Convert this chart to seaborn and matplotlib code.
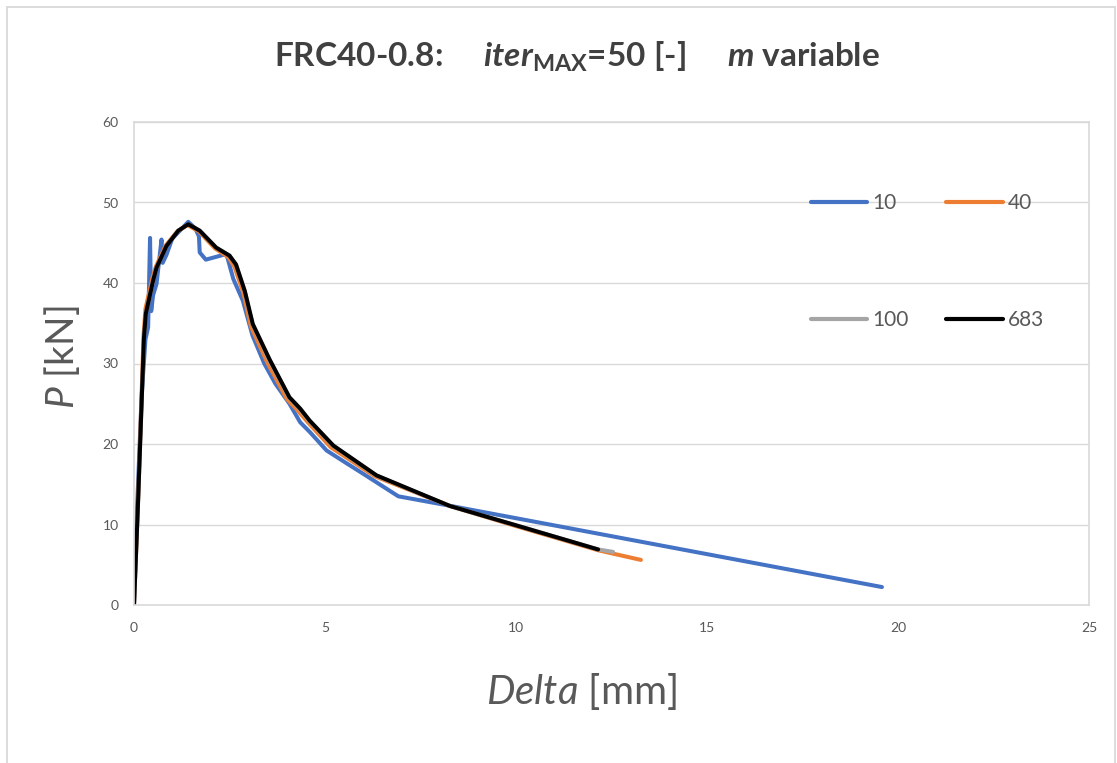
import pandas as pd
import seaborn as sns
from matplotlib import pyplot as plt
from matplotlib.lines import Line2D
from matplotlib.patches import Rectangle

# m = 10
x_m10 = [0, 0.08, 0.2, 0.3, 0.37, 0.42, 0.45, 0.5, 0.59, 0.72, 0.75, 0.85, 1.0, 1.2,
         1.42, 1.6, 1.70, 1.72, 1.88, 2.42, 2.6, 2.85, 3.1, 3.41, 3.7, 4.07, 4.35,
         4.6, 5.04, 5.5, 6.0, 6.92, 8.3, 19.58]
y_m10 = [0, 12, 26, 33, 34.5, 45.6, 36.5, 38.5, 39.9, 45.4, 42.5, 43.5, 45.5, 46.5,
         47.6, 46.8, 45.8, 43.8, 42.9, 43.6, 40.5, 37.8, 33.5, 30.0, 27.5, 25.0, 22.7,
         21.5, 19.2, 17.8, 16.3, 13.5, 12.3, 2.23]

# m = 40
x_m40 = [0, 0.1, 0.25, 0.3, 0.48, 0.57, 0.82, 1.13, 1.4, 1.7, 2.12, 2.47, 2.63, 2.86,
         3.06, 3.48, 4.0, 4.28, 4.55, 5.15, 6.3, 8.27, 10.0, 12.15, 13.27]
y_m40 = [0, 12, 33.5, 36.8, 40.6, 42.0, 44.6, 46.4, 47.2, 46.4, 44.3, 43.2, 42.0, 38.8,
         34.6, 30.2, 25.6, 24.2, 22.7, 19.6, 16.0, 12.3, 9.8, 6.8, 5.6]

# m = 100
x_m100 = [0, 0.1, 0.26, 0.31, 0.5, 0.59, 0.85, 1.16, 1.42, 1.72, 2.15, 2.5, 2.67, 2.9,
          3.1, 3.53, 4.05, 4.33, 4.58, 5.2, 6.33, 8.27, 10.0, 12.15, 12.54]
y_m100 = [0, 12, 33.1, 36.2, 40.3, 41.9, 44.6, 46.5, 47.3, 46.5, 44.4, 43.4, 42.3, 39.0,
          34.9, 30.5, 25.8, 24.4, 22.9, 19.8, 16.1, 12.3, 9.9, 6.9, 6.6]

# m = 683
x_m683 = [0, 0.1, 0.26, 0.31, 0.5, 0.59, 0.85, 1.16, 1.42, 1.72, 2.15, 2.5, 2.67, 2.9,
          3.11, 3.55, 4.07, 4.35, 4.6, 5.22, 6.35, 8.27, 10.0, 12.15]
y_m683 = [0, 12, 33.1, 36.2, 40.3, 41.9, 44.6, 46.5, 47.3, 46.5, 44.4, 43.4, 42.3, 39.0,
          34.9, 30.5, 25.8, 24.4, 22.9, 19.8, 16.1, 12.3, 9.9, 6.9]

series = ["10", "40", "100", "683"]
colors = ["#4472C4", "#ED7D31", "#A5A5A5", "#000000"]

sns.set_style("white")
plt.rcParams["font.family"] = ["Lato", "DejaVu Sans"]
plt.rcParams["mathtext.fontset"] = "custom"
plt.rcParams["mathtext.rm"] = "Lato"
plt.rcParams["mathtext.it"] = "Lato:italic"
plt.rcParams["mathtext.bf"] = "Lato:bold:italic"
plt.rcParams["mathtext.sf"] = "Lato:bold"

frames = []
for name, xs, ys in zip(series, [x_m10, x_m40, x_m100, x_m683],
                        [y_m10, y_m40, y_m100, y_m683]):
    d = pd.DataFrame({"delta": xs, "P": ys})
    d["m"] = name
    frames.append(d)
df = pd.concat(frames, ignore_index=True)

fig = plt.figure(figsize=(11.17, 7.63), dpi=100)
ax = fig.add_axes([134 / 1117, 1 - 605 / 763, (1089 - 134) / 1117, (605 - 122) / 763])

for name, col in zip(series, colors):
    sub = df[df["m"] == name]
    sns.lineplot(data=sub, x="delta", y="P", color=col, linewidth=2.9,
                 estimator=None, sort=False, ax=ax, legend=False)

ax.set_xlim(0, 25)
ax.set_ylim(0, 60)
ax.set_xticks(range(0, 26, 5))
ax.set_yticks(range(0, 61, 10))
ax.yaxis.grid(True, color="#D9D9D9", linewidth=1)
ax.set_axisbelow(True)
for s in ax.spines.values():
    s.set_color("#D9D9D9")
    s.set_linewidth(1.2)
ax.tick_params(axis="both", length=0, labelsize=10, labelcolor="#595959")
ax.tick_params(axis="x", pad=12)
ax.tick_params(axis="y", pad=11)

ax.set_xlabel(r"$\mathit{Delta}$ [mm]", fontsize=29, color="#595959", va="center")
ax.xaxis.set_label_coords((582 - 134) / 955, -(692 - 605) / 483)
ax.set_ylabel(r"$\mathit{P}$ [kN]", fontsize=28, color="#595959", va="center")
ax.yaxis.set_label_coords((62 - 134) / 955, (605 - 357) / 483)

fig.text(577 / 1117, 1 - 57 / 763,
         r"FRC40-0.8:     $\mathbf{iter}_{\mathsf{MAX}}$=50 [-]     $\mathbf{m}$ variable",
         ha="center", va="center", fontsize=24, fontweight="bold", color="#404040")

# legend fills column by column, so order it to read 10 40 / 100 683 across rows
leg_order = [0, 2, 1, 3]
handles = [Line2D([0], [0], color=colors[i], linewidth=3, solid_capstyle="round")
           for i in leg_order]
fig.legend(handles, [series[i] for i in leg_order], loc="upper left", ncol=2,
           bbox_to_anchor=(811 / 1117, 1 - 193 / 763), frameon=False,
           fontsize=15, labelcolor="#595959", handlelength=2.7, handletextpad=0.25,
           columnspacing=1.8, labelspacing=4.65, borderpad=0, borderaxespad=0)

fig.patches.append(Rectangle((7 / 1117, -0.1), 1108 / 1117, 1 - 7 / 763 + 0.1,
                             transform=fig.transFigure, fill=False,
                             edgecolor="#D9D9D9", linewidth=1.3))

plt.savefig("out.png", dpi=100)
